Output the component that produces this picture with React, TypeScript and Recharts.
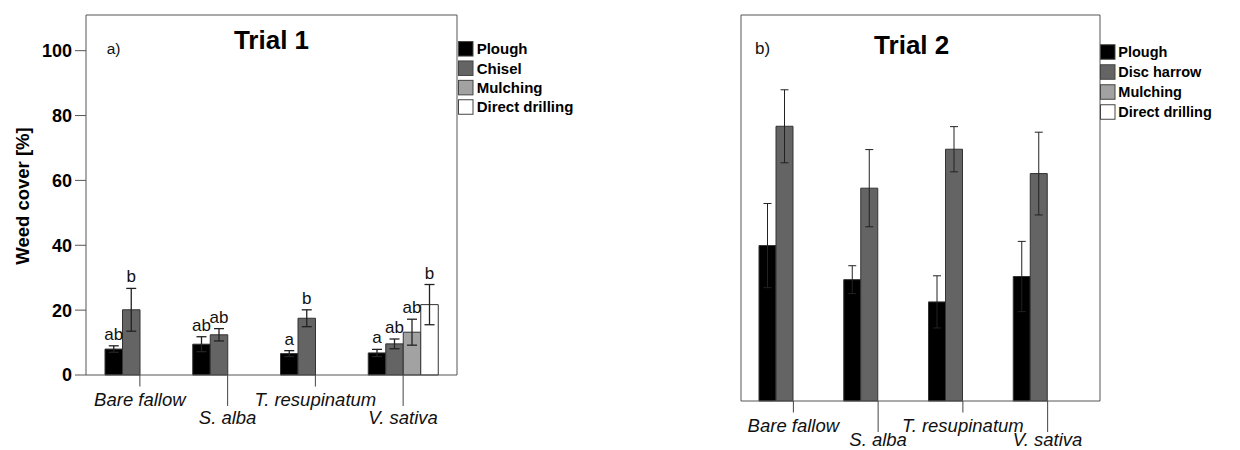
import React from 'react';
import { BarChart, Bar, XAxis, YAxis, ErrorBar, LabelList, Customized, CartesianGrid } from 'recharts';

// Cover crop treatments (x categories)
const sites = ['Bare fallow', 'S. alba', 'T. resupinatum', 'V. sativa'];
const yTicks = [0, 20, 40, 60, 80, 100];
const yMax = 111;

// Trial 1 – mean weed cover [%] and error half-widths per tillage system
const t1Plough = [8.0, 9.5, 6.6, 6.8];
const t1PloughErr = [1.0, 2.3, 0.9, 1.1];
const t1Chisel = [20.1, 12.4, 17.5, 9.6];
const t1ChiselErr = [6.6, 1.9, 2.6, 1.5];
const t1Mulching = [null, null, null, 13.2];
const t1MulchingErr = [null, null, null, 4.0];
const t1Direct = [null, null, null, 21.7];
const t1DirectErr = [null, null, null, 6.2];

// Trial 1 – significance letters
const t1PloughLetters = ['ab', 'ab', 'a', 'a'];
const t1ChiselLetters = ['b', 'ab', 'b', 'ab'];
const t1MulchingLetters = ['', '', '', 'ab'];
const t1DirectLetters = ['', '', '', 'b'];

// Trial 2 – mean weed cover [%] and error half-widths
const t2Plough = [44.7, 34.9, 28.5, 35.8];
const t2PloughErr = [12.1, 4.0, 7.5, 10.1];
const t2Disc = [79.0, 61.2, 72.4, 65.4];
const t2DiscErr = [10.5, 11.1, 6.5, 11.9];

const legend1 = ['Plough', 'Chisel', 'Mulching', 'Direct drilling'];
const legend2 = ['Plough', 'Disc harrow', 'Mulching', 'Direct drilling'];

const COLORS = ['#000000', '#646464', '#a2a2a2', '#ffffff'];
const FONT = '"Liberation Sans", Arial, sans-serif';
const AXIS = '#555555';

const trial1 = sites.map((name, i) => ({
  name,
  plough: t1Plough[i],
  ploughErr: t1PloughErr[i],
  ploughLetter: t1PloughLetters[i],
  chisel: t1Chisel[i],
  chiselErr: t1ChiselErr[i],
  chiselLetter: t1ChiselLetters[i],
  mulching: t1Mulching[i],
  mulchingErr: t1MulchingErr[i],
  mulchingLetter: t1MulchingLetters[i],
  direct: t1Direct[i],
  directErr: t1DirectErr[i],
  directLetter: t1DirectLetters[i],
}));

const trial2 = sites.map((name, i) => ({
  name,
  plough: t2Plough[i],
  ploughErr: t2PloughErr[i],
  disc: t2Disc[i],
  discErr: t2DiscErr[i],
  mulching: null,
  direct: null,
}));

// Letter placed just above the upper whisker of each bar
const letterContent = (key: string) => (props: any) => {
  const { x, y, width, height, value } = props;
  const row = value && typeof value === 'object' ? value : null;
  if (!row) return null;
  const v = row[key];
  const txt = row[key + 'Letter'];
  if (!txt || v == null || !height) return null;
  const perUnit = Math.abs(Number(height)) / Number(v);
  const top = Math.min(Number(y), Number(y) + Number(height));
  const errTop = top - (row[key + 'Err'] ?? 0) * perUnit;
  return (
    <text x={Number(x) + Number(width) / 2} y={errTop - 6} textAnchor="middle" fontSize={17} fill="#111" fontFamily={FONT}>
      {txt}
    </text>
  );
};
const rowOf = (entry: any) => entry?.payload;

// Staggered category labels with leader lines
const makeSiteTick = (labelA: number, labelB: number) => (props: any) => {
  const { x, y, payload } = props;
  const i = payload?.index ?? props.index ?? 0;
  const lower = i % 2 === 1;
  const lineLen = lower ? 31 : 11.5;
  const base = lower ? labelB : labelA;
  return (
    <g>
      <line x1={x} x2={x} y1={y} y2={y + lineLen} stroke="#444" strokeWidth={1} />
      <text x={x} y={y + base} textAnchor="middle" fontStyle="italic" fontSize={18.5} fill="#111" fontFamily={FONT}>
        {payload.value}
      </text>
    </g>
  );
};

// Frame lines along the top and right of the plot area
const topEdge = ({ offset }: any) => [offset.top];
const rightEdge = ({ offset }: any) => [offset.left + offset.width];

const LegendBlock = ({ names, x, y0, step, size, textX, fontSize }: any) => (
  <g>
    {names.map((n: string, i: number) => (
      <g key={n}>
        <rect x={x} y={y0 + i * step - size / 2} width={size} height={size} fill={COLORS[i]} stroke="#444" strokeWidth={1} />
        <text x={textX} y={y0 + i * step + fontSize * 0.36} fontSize={fontSize} fontWeight="bold" fill="#000" fontFamily={FONT}>
          {n}
        </text>
      </g>
    ))}
  </g>
);

const Overlay1 = () => (
  <g>
    <text x={271.5} y={49.3} textAnchor="middle" fontSize={26} fontWeight="bold" fill="#000" fontFamily={FONT}>Trial 1</text>
    <text x={106.7} y={54} fontSize={15.5} fill="#111" fontFamily={FONT}>a)</text>
    <text x={28.5} y={196} transform="rotate(-90, 28.5, 196)" textAnchor="middle" fontSize={18.5} fontWeight="bold" fill="#000" fontFamily={FONT}>
      Weed cover [%]
    </text>
    <LegendBlock names={legend1} x={458.5} y0={48.8} step={19.4} size={14.5} textX={476.7} fontSize={15} />
  </g>
);

const Overlay2 = () => (
  <g>
    <text x={291.7} y={54.3} textAnchor="middle" fontSize={26} fontWeight="bold" fill="#000" fontFamily={FONT}>Trial 2</text>
    <text x={135} y={53.5} fontSize={17} fill="#111" fontFamily={FONT}>b)</text>
    <LegendBlock names={legend2} x={480.5} y0={52} step={20} size={14.5} textX={498.3} fontSize={14.5} />
  </g>
);

const Tick1 = makeSiteTick(31, 49);
const Tick2 = makeSiteTick(31.3, 44.5);

export default function App() {
  return (
    <div style={{ position: 'absolute', left: 0, top: 0, width: 1240, height: 450, background: '#fff', fontFamily: FONT }}>
      <div style={{ position: 'absolute', left: 0, top: 0 }}>
        <BarChart width={620} height={450} data={trial1} margin={{ top: 15, right: 163, bottom: 0, left: 0 }} barGap={0} barSize={17.5}>
          <CartesianGrid stroke={AXIS} horizontalCoordinatesGenerator={topEdge} verticalCoordinatesGenerator={rightEdge} />
          <XAxis dataKey="name" height={75} padding={{ left: 10, right: 10 }} interval={0} tickLine={false} tickSize={0} tickMargin={0}
            axisLine={{ stroke: AXIS }} tick={Tick1} />
          <YAxis width={86} domain={[0, yMax]} ticks={yTicks} interval={0} tickSize={11} tickMargin={3}
            axisLine={{ stroke: AXIS }} tickLine={{ stroke: AXIS }}
            tick={{ fontSize: 18, fontWeight: 'bold', fill: '#000', fontFamily: FONT }} />
          <Bar dataKey="plough" fill={COLORS[0]} stroke="#333" strokeWidth={1} isAnimationActive={false}>
            <ErrorBar dataKey="ploughErr" width={5} stroke="#222" strokeWidth={1.3} direction="y" />
            <LabelList valueAccessor={rowOf} content={letterContent('plough')} />
          </Bar>
          <Bar dataKey="chisel" fill={COLORS[1]} stroke="#333" strokeWidth={1} isAnimationActive={false}>
            <ErrorBar dataKey="chiselErr" width={5} stroke="#222" strokeWidth={1.3} direction="y" />
            <LabelList valueAccessor={rowOf} content={letterContent('chisel')} />
          </Bar>
          <Bar dataKey="mulching" fill={COLORS[2]} stroke="#333" strokeWidth={1} isAnimationActive={false}>
            <ErrorBar dataKey="mulchingErr" width={5} stroke="#222" strokeWidth={1.3} direction="y" />
            <LabelList valueAccessor={rowOf} content={letterContent('mulching')} />
          </Bar>
          <Bar dataKey="direct" fill={COLORS[3]} stroke="#333" strokeWidth={1} isAnimationActive={false}>
            <ErrorBar dataKey="directErr" width={5} stroke="#222" strokeWidth={1.3} direction="y" />
            <LabelList valueAccessor={rowOf} content={letterContent('direct')} />
          </Bar>
          <Customized component={Overlay1} />
        </BarChart>
      </div>
      <div style={{ position: 'absolute', left: 620, top: 0 }}>
        <BarChart width={620} height={450} data={trial2} margin={{ top: 15, right: 140, bottom: 0, left: 0 }} barGap={0} barSize={17}>
          <CartesianGrid stroke={AXIS} horizontalCoordinatesGenerator={topEdge} verticalCoordinatesGenerator={rightEdge} />
          <XAxis dataKey="name" height={49} padding={{ left: 10, right: 10 }} interval={0} tickLine={false} tickSize={0} tickMargin={0}
            axisLine={{ stroke: AXIS }} tick={Tick2} />
          <YAxis width={121} domain={[0, yMax]} ticks={yTicks} interval={0} tickSize={6} tick={false}
            axisLine={{ stroke: AXIS }} tickLine={{ stroke: AXIS }} />
          <Bar dataKey="plough" fill={COLORS[0]} stroke="#333" strokeWidth={1} isAnimationActive={false}>
            <ErrorBar dataKey="ploughErr" width={4} stroke="#222" strokeWidth={1} direction="y" />
          </Bar>
          <Bar dataKey="disc" fill={COLORS[1]} stroke="#333" strokeWidth={1} isAnimationActive={false}>
            <ErrorBar dataKey="discErr" width={4} stroke="#222" strokeWidth={1} direction="y" />
          </Bar>
          <Bar dataKey="mulching" fill={COLORS[2]} stroke="#333" strokeWidth={1} isAnimationActive={false} />
          <Bar dataKey="direct" fill={COLORS[3]} stroke="#333" strokeWidth={1} isAnimationActive={false} />
          <Customized component={Overlay2} />
        </BarChart>
      </div>
    </div>
  );
}
